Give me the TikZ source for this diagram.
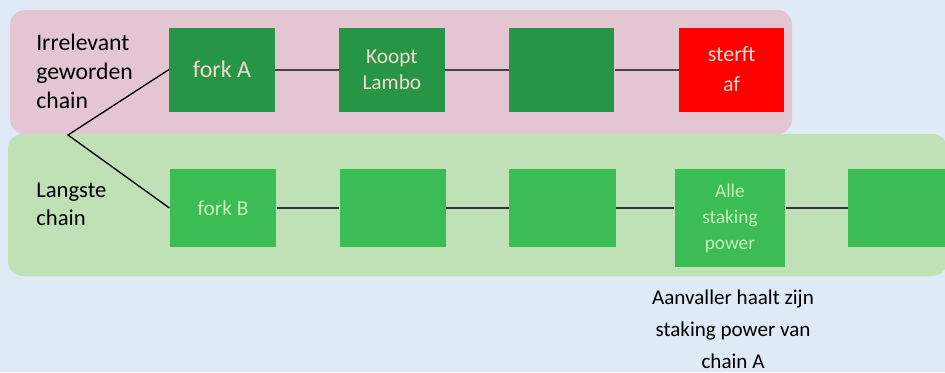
\documentclass[tikz,border=0pt]{standalone}
\usepackage{fontspec}
\setmainfont{Carlito}
\usetikzlibrary{positioning}
\definecolor{bgblue}{RGB}{222,234,246}
\definecolor{bandpink}{RGB}{227,198,210}
\definecolor{bandgreen}{RGB}{192,224,182}
\definecolor{darkblock}{RGB}{38,150,70}
\definecolor{lightblock}{RGB}{59,188,84}
\definecolor{deadred}{RGB}{255,0,0}
\definecolor{paletext}{RGB}{242,218,210}
\definecolor{mintext}{RGB}{200,240,185}
\definecolor{linkgray}{RGB}{72,64,72}
\tikzset{
  band/.style={rounded corners=11pt},
  oldblock/.style={
    rectangle, fill=darkblock, text=paletext,
    minimum width=79pt, minimum height=63pt,
    align=center, font=\fontsize{16}{19.5}\selectfont
  },
  newblock/.style={
    rectangle, fill=lightblock, text=mintext,
    minimum width=80pt, minimum height=59pt,
    align=center, font=\fontsize{14.5}{19.5}\selectfont
  },
  chainlabel/.style={
    anchor=north west, inner sep=0pt, align=left,
    font=\fontsize{17.8}{21.8}\selectfont
  },
  link/.style={draw=linkgray, line width=1.5pt},
  forkline/.style={draw=black, line width=1pt}
}

\begin{document}
\begin{tikzpicture}[x=0.75pt, y=-0.75pt]

\clip (0,0) rectangle (945,372);
\fill[bgblue] (0,0) rectangle (945,372);

% Bands
\fill[bandpink, band] (10,10) rectangle (792,134);
\fill[bandgreen, band] (8,134) rectangle (947,276);

% Chain labels
\node[chainlabel] (oldlabel) at (36,34) {Irrelevant\\geworden\\chain};
\node[chainlabel, font=\fontsize{17}{21}\selectfont] (longlabel) at (36,183) {Langste\\chain};

% Old chain
\node[oldblock, font=\fontsize{18}{22}\selectfont] (forkA) at (222,69.5) {fork A};
\node[oldblock, right=48pt of forkA] (lambo) {Koopt\\Lambo};
\node[oldblock, right=48pt of lambo] (oldempty) {};
\node[oldblock, fill=deadred, right=48pt of oldempty,
      font=\fontsize{16.5}{22.5}\selectfont] (dies) {sterft\\af};

% Longest chain
\node[newblock, font=\fontsize{16}{20}\selectfont] (forkB) at (223,208) {fork B};
\node[newblock, right=47pt of forkB] (newempty) {};
\node[newblock, right=47pt of newempty] (newemptyb) {};
\node[newblock, minimum width=83pt, minimum height=74pt,
      right=43.5pt of newemptyb.north east, anchor=north west] (stake) {Alle\\staking\\power};
\node[newblock, right=47pt of stake.north east, anchor=north west] (newlast) {};

% Connectors
\coordinate (split) at (68,135);
\draw[forkline] (forkA.west) -- (split) -- (forkB.west);
\draw[link] (forkA) -- (lambo);
\draw[link] (lambo) -- (oldempty);
\draw[link] (oldempty) -- (dies);
\draw[link, draw=black!80] (forkB) -- (newempty);
\draw[link, draw=black!80] (newempty) -- (newemptyb);
\draw[link, draw=black!80] (newemptyb.east) -- (newemptyb.east -| stake.west);
\draw[link, draw=black!80] (stake.east |- newlast.west) -- (newlast.west);

% Note
\node[anchor=north, inner sep=0pt, align=center,
      font=\fontsize{15.8}{24}\selectfont] (note) at (733,290)
  {Aanvaller haalt zijn\\staking power van\\chain A};

\end{tikzpicture}
\end{document}
